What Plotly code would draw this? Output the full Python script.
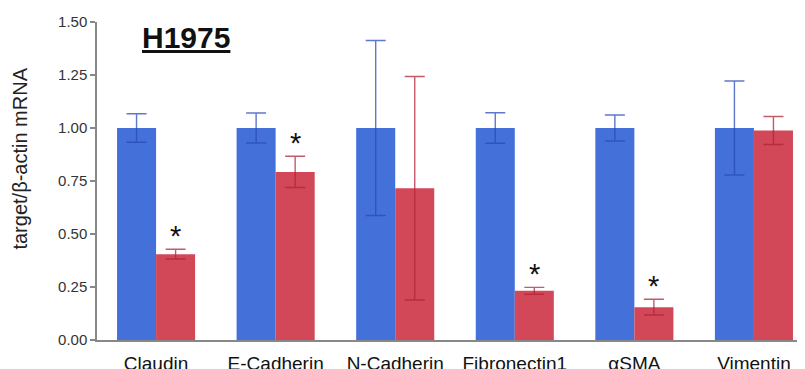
import plotly.graph_objects as go

categories = ["Claudin", "E-Cadherin", "N-Cadherin", "Fibronectin1", "αSMA", "Vimentin"]
control_vals = [1.00, 1.00, 1.00, 1.00, 1.00, 1.00]
control_err = [0.067, 0.071, 0.413, 0.072, 0.061, 0.222]
treat_vals = [0.405, 0.793, 0.716, 0.232, 0.155, 0.988]
treat_err = [0.023, 0.074, 0.527, 0.016, 0.037, 0.066]
significant = [True, True, False, True, True, False]
y_ticks = [0, 0.25, 0.5, 0.75, 1.0, 1.25, 1.5]

FONT = "Liberation Sans, Arial, Helvetica, sans-serif"
BLUE = "#4470da"
RED = "#d24858"

fig = go.Figure()
fig.add_trace(go.Bar(
    x=categories, y=control_vals, name="Control",
    marker=dict(color=BLUE, line=dict(width=0)),
    error_y=dict(type="data", array=control_err, visible=True,
                 color="rgba(40,75,185,0.75)", thickness=1.4, width=10),
))
fig.add_trace(go.Bar(
    x=categories, y=treat_vals, name="Treated",
    marker=dict(color=RED, line=dict(width=0)),
    error_y=dict(type="data", array=treat_err, visible=True,
                 color="rgba(175,35,55,0.75)", thickness=1.4, width=10),
))

annotations = []
for c, v, e, s in zip(categories, treat_vals, treat_err, significant):
    if s:
        annotations.append(dict(
            x=c, y=v + e, xref="x", yref="y", text="*", showarrow=False,
            xshift=19.5, yshift=13, yanchor="middle",
            font=dict(family=FONT, size=29, color="#111111"),
        ))

annotations.append(dict(
    x=0.125, y=0.95, xref="paper", yref="paper",
    text="<b><u>H1975</u></b>", showarrow=False,
    xanchor="center", yanchor="middle",
    font=dict(family=FONT, size=30, color="#111111"),
))
annotations.append(dict(
    x=-0.109, y=0.57, xref="paper", yref="paper",
    text="target/β-actin mRNA", showarrow=False, textangle=-90,
    xanchor="center", yanchor="middle",
    font=dict(family=FONT, size=20, color="#222222"),
))

# The page body has an 8px margin; shrink the figure so the plot lands
# where it does in the reference.
fig.update_layout(
    template="none",
    width=797, height=361,
    margin=dict(l=89, r=0, t=14, b=29, pad=0),
    paper_bgcolor="white", plot_bgcolor="white",
    barmode="group", bargap=0.347, bargroupgap=0,
    showlegend=False,
    font=dict(family=FONT, color="#222222"),
    annotations=annotations,
)
fig.update_xaxes(
    range=[-0.494, 5.427], automargin=False,
    showline=True, linecolor="#888888", linewidth=1.5,
    showgrid=False, zeroline=False, ticks="",
    ticklabelstandoff=5,
    tickfont=dict(family=FONT, size=19, color="#111111"),
)
fig.update_yaxes(
    range=[0, 1.5], automargin=False,
    tickvals=y_ticks, tickformat=".2f",
    showline=True, linecolor="#888888", linewidth=1.5,
    showgrid=False, zeroline=False,
    ticks="outside", ticklen=5, tickcolor="#888888", tickwidth=1.5,
    tickfont=dict(family=FONT, size=15, color="#333333"),
)

fig.write_html("out.html")
